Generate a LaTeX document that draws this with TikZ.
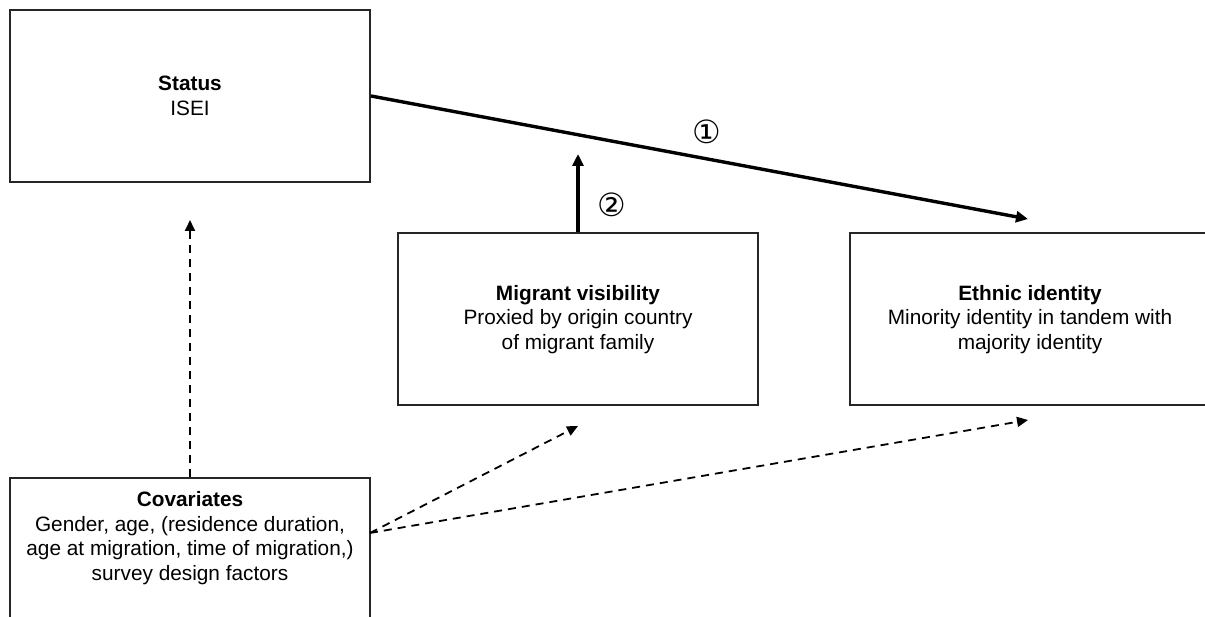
\documentclass[tikz,border=0pt]{standalone}
\usepackage{fontspec}
\setmainfont{Liberation Sans}
\newfontfamily\symfont{DejaVu Sans}
\usetikzlibrary{arrows.meta}
\begin{document}
\begin{tikzpicture}[x=1pt,y=-1pt,
  box/.style={draw=black!85,line width=2pt,minimum width=360pt,minimum height=172pt,inner sep=0pt,
    align=center,font=\fontsize{20.8}{24.5}\selectfont},
  txt/.style={align=center,font=\fontsize{20.8}{24.5}\selectfont,inner sep=0pt},
  thickarr/.style={line width=3.4pt,-{Triangle[length=12pt,width=11pt]}},
  dasharr/.style={line width=1.8pt,dash pattern=on 8pt off 6pt,-{Triangle[length=11pt,width=10pt]}},
  num/.style={font=\symfont\fontsize{32}{32}\selectfont,inner sep=0pt}]
\useasboundingbox (0,0) rectangle (1205,617);
\node[box] (status) at (190,96) {\textbf{Status}\\ISEI};
\node[box] (mig) at (578,319.5) {\textbf{Migrant visibility}\\Proxied by origin country\\of migrant family};
\node[box] (eth) at (1030,319.5) {\textbf{Ethnic identity}\\Minority identity in tandem with\\majority identity};
\node[box] (cov) at (190,564) {};
\node[txt] (covtext) at (190,538) {\textbf{Covariates}\\Gender, age, (residence duration,\\age at migration, time of migration,)\\survey design factors};
\coordinate (ethtip) at (1028,219);
\coordinate (modtip) at (578,154);
\coordinate (stattip) at (190,220);
\coordinate (covout) at (370,533);
\coordinate (migtip) at (578,426);
\coordinate (ethtip2) at (1028,420);
\draw[thickarr] (status.east) -- (ethtip);
\draw[thickarr] (mig.north) -- (modtip);
\draw[dasharr] (cov.north) -- (stattip);
\draw[dasharr] (covout) -- (migtip);
\draw[dasharr] (covout) -- (ethtip2);
\node[num] (n1) at (707,132) {①};
\node[num] (n2) at (612,205) {②};
\end{tikzpicture}
\end{document}
